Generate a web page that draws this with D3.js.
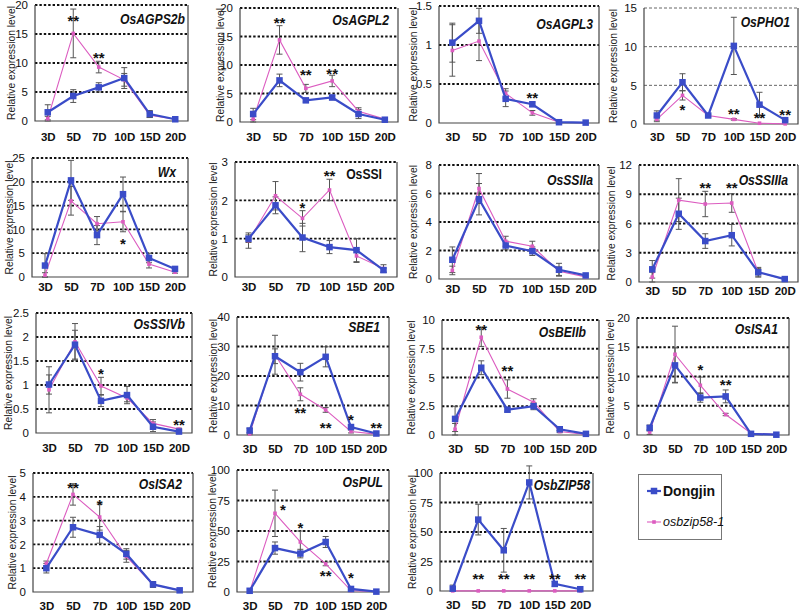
<!DOCTYPE html>
<html><head><meta charset="utf-8">
<script src="https://cdn.jsdelivr.net/npm/d3@7"></script>
<style>
body{margin:0;background:#fff}
text{font-family:"Liberation Sans",Arial,sans-serif}
</style>
</head><body>
<svg id="c" width="800" height="612"></svg>
<script>
// ---------- DATA ----------
const days = ["3D","5D","7D","10D","15D","20D"];
const genes = ["OsAGPS2b","OsAGPL2","OsAGPL3","OsPHO1","Wx","OsSSI","OsSSIIa","OsSSIIIa",
               "OsSSIVb","SBE1","OsBEIIb","OsISA1","OsISA2","OsPUL","OsbZIP58"];
const seriesNames = ["Dongjin","osbzip58-1"];
const yMax  = [20,20,1.5,15,25,3,8,12,2.5,40,10,20,5,100,100];
const yStep = [5,5,0.5,5,5,1,2,3,0.5,10,2.5,5,1,25,25];

const dongjin = [
  [1.5,4.3,5.8,7.4,1.2,0.3],
  [1.4,7.3,3.8,4.3,1.4,0.4],
  [1.03,1.31,0.31,0.24,0.01,0.005],
  [1.1,5.4,1.1,10.1,2.5,0.5],
  [2.4,20.3,8.8,17.4,4.0,1.7],
  [1.0,1.87,1.03,0.78,0.70,0.18],
  [1.35,5.6,2.35,1.95,0.65,0.25],
  [1.3,7.0,4.2,4.8,1.0,0.3],
  [1.01,1.84,0.67,0.79,0.13,0.03],
  [1.5,26.7,21.3,26.5,2.7,0.5],
  [1.4,5.85,2.2,2.5,0.5,0.1],
  [1.2,11.9,6.4,6.6,0.2,0.05],
  [1.0,2.72,2.4,1.6,0.32,0.07],
  [1.0,36,31.5,41,2.5,0.3],
  [2,60.5,34.5,92,6,1.5]
];
const dongjinErr = [
  [1.3,1.1,0.8,1.8,0.6,0.1],
  [1.0,1.1,0.3,0.4,0.8,0.1],
  [0.25,0.16,0.1,0.03,0.005,0.002],
  [0.6,1.1,0.2,3.7,1.6,0.1],
  [2.5,4.2,2.0,3.6,1.0,0.3],
  [0.1,0.22,0.37,0.17,0.3,0.05],
  [0.9,1.1,0.3,0.3,0.45,0.05],
  [0.9,1.6,0.75,1.1,0.4,0.05],
  [0.2,0.3,0.12,0.18,0.1,0.01],
  [0.8,2.5,3.0,3.4,0.8,0.2],
  [1.1,0.6,0.2,0.3,0.1,0.03],
  [0.5,3.0,0.8,1.1,0.05,0.02],
  [0.2,0.42,0.35,0.22,0.12,0.02],
  [0.5,5,3.5,4.5,0.5,0.1],
  [3,13,18.5,14,2,0.5]
];
const mutant = [
  [0.4,15.1,9.3,7.1,1.0,0.3],
  [0.5,14.4,5.9,7.2,1.9,0.5],
  [0.93,1.05,0.38,0.13,0.01,0.005],
  [0.6,3.7,1.1,0.6,0.1,0.02],
  [0.4,16.0,11.2,11.6,2.7,1.0],
  [0.95,2.12,1.53,2.27,0.55,0.22],
  [0.6,6.35,2.65,2.3,0.55,0.15],
  [0.5,8.4,8.0,8.1,1.0,0.25],
  [0.9,1.9,0.98,0.73,0.2,0.08],
  [0.4,27.2,13.8,8.5,1.2,0.3],
  [0.5,8.5,4.0,2.85,0.3,0.05],
  [0.5,13.8,8.5,3.5,0.3,0.1],
  [1.2,4.1,3.15,1.5,0.3,0.08],
  [0.3,64.5,41,23,1.2,0.2],
  [0.1,0.1,0.1,0.1,0.1,0.1]
];
const mutantErr = [
  [0.4,4.2,1.0,1.1,0.4,0.1],
  [0.5,2.5,0.7,1.0,0.6,0.1],
  [0.33,0.25,0.06,0.03,0.005,0.002],
  [0.3,0.6,0.1,0.1,0.05,0.01],
  [0.5,3.0,1.5,2.1,0.8,0.2],
  [0.2,0.37,0.2,0.28,0.17,0.1],
  [0.3,1.05,0.35,0.35,0.3,0.05],
  [0.5,2.2,1.3,0.95,0.5,0.05],
  [0.48,0.38,0.18,0.08,0.08,0.02],
  [0.3,6.6,2.2,0.8,0.5,0.1],
  [0.5,0.8,0.8,0.3,0.1,0.02],
  [0.4,4.8,1.4,0.2,0.1,0.03],
  [0.1,0.45,0.55,0.25,0.1,0.02],
  [0.3,19,9,1.5,0.5,0.1],
  [0,0,0,0,0,0]
];
// significance marks: [day index, value at mark centre, text]
const stars = [
  [[1,17.8,"**"],[2,11.4,"**"]],
  [[1,17.9,"**"],[2,8.9,"**"],[3,9.1,"**"]],
  [[3,0.37,"**"]],
  [[1,2.2,"*"],[3,1.8,"**"],[4,1.2,"**"],[5,1.6,"**"]],
  [[3,7.6,"*"]],
  [[2,1.88,"*"],[3,2.72,"**"]],
  [],
  [[2,9.95,"**"],[3,9.95,"**"]],
  [[2,1.31,"*"],[5,0.24,"**"]],
  [[2,8.5,"**"],[3,3.7,"**"],[4,6.2,"*"],[5,3.4,"**"]],
  [[1,9.4,"**"],[2,5.9,"**"]],
  [[2,11.7,"*"],[3,9.1,"**"]],
  [[1,4.5,"**"],[2,3.8,"*"]],
  [[1,70,"*"],[2,55,"*"],[3,15.8,"**"],[4,14,"*"]],
  [[1,13,"**"],[2,13,"**"],[3,13,"**"],[4,13,"**"],[5,13,"**"]]
];

// ---------- LAYOUT ----------
// [left, right, top, bottom, y-title x, x-label padding, gene-title right, gene-title centre y]
const boxes = [
  [35,188,5,121,11,12,185,19],[240,398,8,122,220,11,389,20],[439,599,6,123,413,10,593,24],[644,798,8,124,613,9,790,22],
  [32,188,158,277,9,6,176,172],[235,397,162,277,213,6,382,174],[439,599,165,279,413,6,593,180],[639,798,165,282,611,5,788,180],
  [36,192,313,433,8,11,185,324],[237,389,317,435,213,10,380,327],[442,599,320,435,411,10,586,332],[637,789,318,435,610,10,778,329],
  [33,193,473,592,12,10,182,484],[237,389,470,592,212,10,383,482],[440,593,473,591,412,10,590,485]
];
const titleStyle = genes.map(g => g==="OsSSI" ? "normal" : "italic");
const blue = "#3a4cc8", pink = "#dc5cc0";

const svg = d3.select("#c");

genes.forEach((gene,i)=>{
  const [x0,x1,y0,y1,tx,pad,gx,gy] = boxes[i];
  const x = d3.scalePoint().domain(days).range([x0,x1]).padding(0.5);
  const y = d3.scaleLinear().domain([0,yMax[i]]).range([y1,y0]);
  const ticks = d3.range(0, yMax[i]+1e-9, yStep[i]);
  const G = svg.append("g");
  const light = (gene==="OsPHO1");

  // gridlines
  G.selectAll("line.grid").data(ticks.filter(t=>t>0)).join("line")
    .attr("x1",x0).attr("x2",x1).attr("y1",d=>y(d)).attr("y2",d=>y(d))
    .attr("stroke",light?"#666":"#111").attr("stroke-width",light?1:1.8)
    .attr("stroke-dasharray",light?"3,2":"2.4,2");

  // frame (left, bottom, right)
  G.append("path").attr("d",`M${x0},${y0}V${y1}H${x1}V${y0}`)
    .attr("fill","none").attr("stroke","#444").attr("stroke-width",1.2);

  // y axis
  const ya = G.append("g").attr("transform",`translate(${x0},0)`)
    .call(d3.axisLeft(y).tickValues(ticks).tickSize(0).tickPadding(7).tickFormat(d3.format("~g")));
  ya.select(".domain").remove();
  ya.selectAll("text").attr("font-size",11.5).attr("fill","#111")
    .style("font-family","'Liberation Sans',Arial,sans-serif");

  // x axis
  const xa = G.append("g").attr("transform",`translate(0,${y1})`)
    .call(d3.axisBottom(x).tickSize(0).tickPadding(pad));
  xa.select(".domain").remove();
  xa.selectAll("text").attr("font-size",11.5).attr("font-weight","bold").attr("fill","#111")
    .style("font-family","'Liberation Sans',Arial,sans-serif");

  // y title
  G.append("text").attr("transform",`translate(${tx},${(y0+y1)/2}) rotate(-90)`)
    .attr("text-anchor","middle").attr("dominant-baseline","central")
    .attr("font-size",10.3).attr("fill","#222").text("Relative expression level");

  // gene title
  G.append("text").attr("transform",`translate(${gx},${gy}) scale(0.84,1)`)
    .attr("text-anchor","end").attr("dominant-baseline","central")
    .attr("font-size",14.5).attr("font-weight","bold")
    .attr("font-style",titleStyle[i]).attr("fill","#111").text(gene);

  const series = [
    {v:mutant[i], e:mutantErr[i], c:pink, w:1.1, m:3.6},
    {v:dongjin[i], e:dongjinErr[i], c:blue, w:2.2, m:6.5}
  ];
  // error bars
  series.forEach(s=>{
    const eb = G.append("g").attr("stroke","#555").attr("stroke-width",1);
    days.forEach((d,k)=>{
      if(!s.e[k]) return;
      const cx = x(d), t = y(s.v[k]+s.e[k]), b = y(Math.max(0,s.v[k]-s.e[k]));
      if(Math.abs(b-t)<1.5) return;
      eb.append("line").attr("x1",cx).attr("x2",cx).attr("y1",t).attr("y2",b);
      eb.append("line").attr("x1",cx-3).attr("x2",cx+3).attr("y1",t).attr("y2",t);
      eb.append("line").attr("x1",cx-3).attr("x2",cx+3).attr("y1",b).attr("y2",b);
    });
  });
  // lines & markers
  series.forEach(s=>{
    const line = d3.line().x((v,k)=>x(days[k])).y(v=>y(v));
    G.append("path").attr("d",line(s.v)).attr("fill","none")
      .attr("stroke",s.c).attr("stroke-width",s.w);
    G.selectAll(null).data(s.v).join("rect")
      .attr("x",(v,k)=>x(days[k])-s.m/2).attr("y",v=>y(v)-s.m/2)
      .attr("width",s.m).attr("height",s.m).attr("fill",s.c);
  });
  // stars
  G.selectAll("text.star").data(stars[i]).join("text")
    .attr("x",d=>x(days[d[0]]) + (gene==="OsPUL" && d[0]===1 ? 8 : 0))
    .attr("y",d=>y(d[1])+8.5)
    .attr("text-anchor","middle").attr("font-size",15).attr("font-weight","bold")
    .attr("fill","#111").text(d=>d[2]);
});

// legend
const L = svg.append("g");
L.append("rect").attr("x",638.5).attr("y",474.5).attr("width",83).attr("height",65)
  .attr("fill","#fff").attr("stroke","#777").attr("stroke-width",1);
const legY = d3.scalePoint().domain(seriesNames).range([491,522]);
const legC = [blue,pink], legW=[2.2,1.1], legM=[6.5,3.6];
seriesNames.forEach((n,k)=>{
  L.append("line").attr("x1",647).attr("x2",661).attr("y1",legY(n)).attr("y2",legY(n))
    .attr("stroke",legC[k]).attr("stroke-width",legW[k]);
  L.append("rect").attr("x",654-legM[k]/2).attr("y",legY(n)-legM[k]/2)
    .attr("width",legM[k]).attr("height",legM[k]).attr("fill",legC[k]);
  L.append("text").attr("x",663).attr("y",legY(n)).attr("dominant-baseline","central")
    .attr("font-size",k?12.5:14).attr("font-weight",k?"normal":"bold")
    .attr("font-style",k?"italic":"normal").attr("fill","#111").text(n);
});
</script>
</body></html>
